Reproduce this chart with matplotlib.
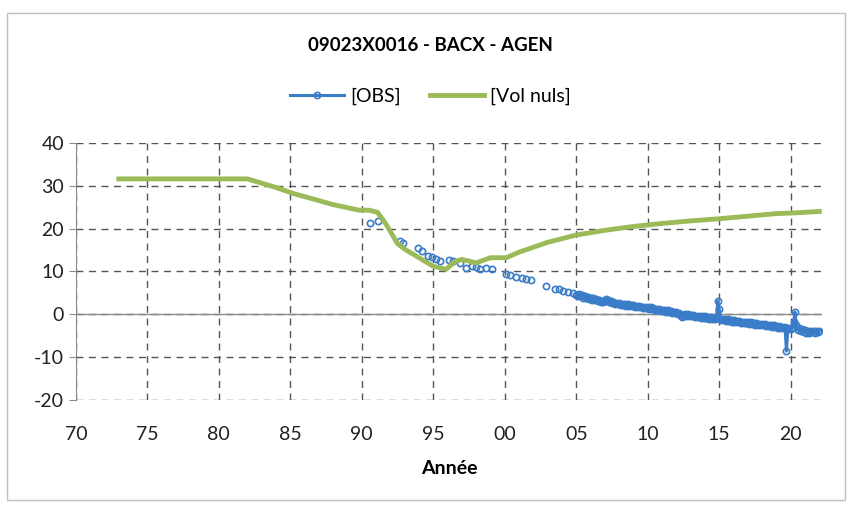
import matplotlib
matplotlib.use("Agg")
import numpy as np
import matplotlib.pyplot as plt
from matplotlib.patches import Rectangle
from matplotlib.ticker import FixedLocator, FuncFormatter

plt.rcParams['font.family'] = ['Lato', 'DejaVu Sans']
plt.rcParams['axes.unicode_minus'] = False

# Niveaux observés [OBS], relevés ponctuels 1990-2005 (année décimale, niveau)
annees_obs = [1990.6, 1991.1, 1992.7, 1992.9, 1993.9, 1994.2, 1994.6, 1994.9,
              1995.2, 1995.5, 1996.1, 1996.4, 1996.9, 1997.3, 1997.7, 1998.0,
              1998.3, 1998.7, 1999.1, 2000.1, 2000.4, 2000.8, 2001.2, 2001.5,
              2001.8, 2002.9, 2003.5, 2003.8, 2004.1, 2004.4, 2004.8]
niveaux_obs = [21.3, 21.8, 17.2, 16.6, 15.4, 14.8, 13.7, 13.3,
               13.0, 12.4, 12.7, 12.5, 11.9, 10.9, 11.3, 11.0,
               10.6, 10.8, 10.5, 9.5, 9.2, 8.8, 8.5, 8.3,
               7.9, 6.6, 5.9, 5.8, 5.5, 5.3, 5.0]

# Suivi automatique 2005-2022, un niveau tous les 0.1 an (une ligne par année)
debut_auto = 2005.0
niveaux_auto = [
    4.6, 4.3, 4.7, 4.2, 4.4, 3.9, 4.2, 3.8, 4.0, 3.6,
    3.9, 3.4, 3.7, 3.3, 3.5, 3.0, 3.3, 2.9, 3.1, 2.8,
    3.2, 3.6, 3.3, 2.8, 3.0, 2.6, 2.9, 2.5, 2.7, 2.4,
    2.6, 2.2, 2.5, 2.1, 2.4, 2.0, 2.3, 1.9, 2.2, 1.9,
    2.1, 1.7, 2.0, 1.6, 1.9, 1.6, 1.8, 1.4, 1.7, 1.4,
    1.7, 1.3, 1.6, 1.2, 1.4, 1.0, 1.3, 0.9, 1.2, 0.8,
    1.1, 0.7, 1.0, 0.6, 0.9, 0.5, 0.8, 0.4, 0.6, 0.2,
    0.5, 0.1, 0.3, -0.4, -0.6, -0.2, 0.1, -0.3, 0.0, -0.4,
    -0.1, -0.5, -0.2, -0.6, -0.3, -0.7, -0.4, -0.8, -0.5, -0.8,
    -0.5, -0.9, -0.6, -1.0, -0.7, -1.0, -0.8, -1.1, -0.9, 3.1,
    1.2, -1.3, -1.0, -1.4, -1.1, -1.5, -1.2, -1.6, -1.3, -1.7,
    -1.4, -1.8, -1.5, -1.9, -1.6, -2.0, -1.7, -2.0, -1.8, -2.1,
    -1.8, -2.2, -1.9, -2.3, -2.0, -2.4, -2.1, -2.4, -2.2, -2.5,
    -2.2, -2.6, -2.3, -2.7, -2.4, -2.8, -2.5, -2.9, -2.6, -3.0,
    -2.7, -3.1, -2.8, -3.2, -2.9, -3.3, -3.0, -8.6, -3.4, -3.1,
    -3.5, -3.2, -1.8, 0.5, -2.6, -3.6, -3.3, -3.9, -3.5, -4.1,
    -3.7, -4.3, -3.8, -4.4, -3.9, -4.2, -3.8, -4.3, -3.9, -4.1,
    -3.8]

# Niveau simulé [Vol nuls]
annees_vol = [1973, 1982, 1984, 1985.2, 1986.5, 1988, 1989.8, 1990.5, 1991.1,
              1991.7, 1992.5, 1993, 1994, 1995, 1995.9, 1996.5, 1997, 1998,
              1999, 2000.1, 2001, 2003, 2005, 2007, 2009, 2011, 2013, 2015,
              2017, 2019, 2020.5, 2022]
niveaux_vol = [31.6, 31.6, 29.6, 28.2, 27.0, 25.6, 24.3, 24.3, 23.8,
               21.0, 16.5, 15.2, 13.2, 11.2, 10.5, 12.3, 12.8, 12.0,
               13.2, 13.2, 14.5, 16.8, 18.5, 19.6, 20.5, 21.2, 21.8, 22.3,
               22.9, 23.5, 23.7, 24.0]

annees_ticks = [1970, 1975, 1980, 1985, 1990, 1995, 2000, 2005, 2010, 2015, 2020]

annees_auto = debut_auto + 0.1 * np.arange(len(niveaux_auto))
bleu = '#3A7CC8'

fig = plt.figure(figsize=(8.52, 5.05), dpi=100)
ax = fig.add_axes([0.089, 0.208, 0.876, 0.509])

# relevés ponctuels : marqueurs seuls (lacunes entre les mesures)
ax.plot(annees_obs, niveaux_obs, linestyle='none', marker='o', markersize=4.5,
        markerfacecolor='none', markeredgecolor=bleu, markeredgewidth=1.2,
        zorder=3)
ax.plot(annees_auto, niveaux_auto, color=bleu, lw=2.2, marker='o',
        markersize=4.5, markerfacecolor='none', markeredgecolor=bleu,
        markeredgewidth=1.2, label='[OBS]', zorder=3)
ax.plot(annees_vol, niveaux_vol, color='#9BBB59', lw=3.5, label='[Vol nuls]',
        zorder=4)

ax.set_xlim(1970, 2022.2)
ax.set_ylim(-20, 40)
ax.xaxis.set_major_locator(FixedLocator(annees_ticks))
ax.xaxis.set_major_formatter(FuncFormatter(lambda v, p: f"{int(v) % 100:02d}"))
ax.set_yticks(range(-20, 41, 10))

ax.grid(True, color='#555555', linestyle=(0, (5, 4)), linewidth=1)
ax.set_axisbelow(True)
ax.axhline(0, color='#8c8c8c', lw=1, zorder=2)

for s in ['top', 'right', 'bottom']:
    ax.spines[s].set_visible(False)
ax.spines['left'].set_color('#8c8c8c')
ax.tick_params(axis='x', length=0, labelsize=14, pad=19, colors='#222222')
ax.tick_params(axis='y', length=5, color='#8c8c8c', labelsize=14,
               colors='#222222')

ax.set_xlabel('Année', fontsize=14, fontweight='bold', labelpad=12)
fig.text(0.505, 0.91, '09023X0016 - BACX - AGEN', ha='center', va='center',
         fontsize=13.5, fontweight='bold')
fig.legend(loc='center', bbox_to_anchor=(0.505, 0.81), ncol=2, frameon=False,
           fontsize=14, handlelength=2.8, columnspacing=1.5, handletextpad=0.3)

fig.patches.append(Rectangle((0.008, 0.01), 0.984, 0.965, transform=fig.transFigure,
                             fill=False, edgecolor='#bfbfbf', lw=1))

fig.savefig('out.png', dpi=100)
